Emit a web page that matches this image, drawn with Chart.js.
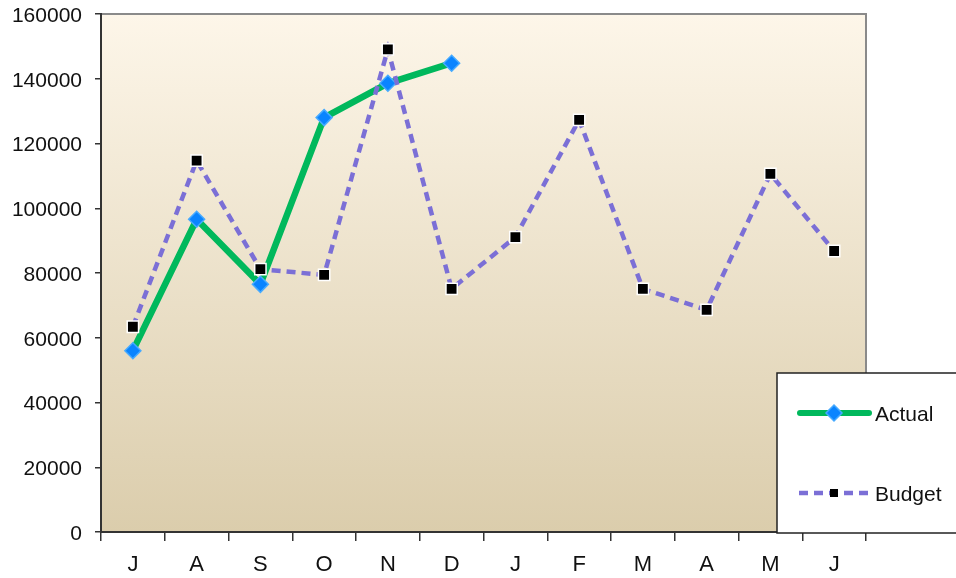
<!DOCTYPE html>
<html>
<head>
<meta charset="utf-8">
<script src="https://cdn.jsdelivr.net/npm/chart.js@4"></script>
<style>
  html, body { margin: 0; padding: 0; background: #fff; }
  #grafico { display: block; }
</style>
</head>
<body>
<canvas id="grafico" width="956" height="578"></canvas>
<script>
// meses (jul a jun)
const meses = ['J', 'A', 'S', 'O', 'N', 'D', 'J', 'F', 'M', 'A', 'M', 'J'];
const actual = [56000, 96600, 76500, 128000, 138600, 144800, null, null, null, null, null, null];
const budget = [63400, 114700, 81200, 79400, 149100, 75100, 91100, 127300, 75100, 68600, 110600, 86800];

const corActual = '#00b85c';
const corBudget = '#7b6fd6';
const fonte = '"Liberation Sans", Arial, sans-serif';

// fundo em degradê da área do gráfico + bordas cinzas em cima e à direita
const fundo = {
  id: 'fundo',
  beforeDraw(chart) {
    const { ctx, chartArea: a } = chart;
    const g = ctx.createLinearGradient(0, a.top, 0, a.bottom);
    g.addColorStop(0, '#fdf6e9');
    g.addColorStop(1, '#dbcdac');
    ctx.save();
    ctx.fillStyle = g;
    ctx.fillRect(a.left, a.top, a.right - a.left, a.bottom - a.top);
    ctx.strokeStyle = '#8a8a8a';
    ctx.lineWidth = 2;
    ctx.beginPath();
    ctx.moveTo(a.left, a.top);
    ctx.lineTo(a.right, a.top);
    ctx.lineTo(a.right, a.bottom);
    ctx.stroke();
    ctx.restore();
  }
};

// legenda desenhada à mão, no canto inferior direito
const legenda = {
  id: 'legenda',
  afterDraw(chart) {
    const { ctx } = chart;
    const x0 = 777, y0 = 373, y1 = 533;
    ctx.save();
    ctx.fillStyle = '#ffffff';
    ctx.fillRect(x0, y0, 200, y1 - y0);
    ctx.strokeStyle = '#222';
    ctx.lineWidth = 1.5;
    ctx.strokeRect(x0, y0, 200, y1 - y0);

    // Actual
    ctx.strokeStyle = corActual;
    ctx.lineWidth = 6;
    ctx.lineCap = 'round';
    ctx.beginPath();
    ctx.moveTo(800, 413);
    ctx.lineTo(869, 413);
    ctx.stroke();
    ctx.fillStyle = '#0a84ff';
    ctx.strokeStyle = '#46aaff';
    ctx.lineWidth = 1.5;
    ctx.beginPath();
    ctx.moveTo(834, 405); ctx.lineTo(842, 413); ctx.lineTo(834, 421); ctx.lineTo(826, 413);
    ctx.closePath();
    ctx.fill();
    ctx.stroke();

    // Budget
    ctx.strokeStyle = corBudget;
    ctx.lineWidth = 4.5;
    ctx.lineCap = 'butt';
    ctx.setLineDash([9, 6]);
    ctx.beginPath();
    ctx.moveTo(799, 493);
    ctx.lineTo(869, 493);
    ctx.stroke();
    ctx.setLineDash([]);
    ctx.fillStyle = '#000';
    ctx.fillRect(830, 489, 8, 8);

    ctx.fillStyle = '#111';
    ctx.font = '21px ' + fonte;
    ctx.textBaseline = 'middle';
    ctx.textAlign = 'left';
    ctx.fillText('Actual', 875, 415);
    ctx.fillText('Budget', 875, 495);
    ctx.restore();
  }
};

const ctx = document.getElementById('grafico').getContext('2d');

const grafico = new Chart(ctx, {
  type: 'line',
  data: {
    labels: meses,
    datasets: [
      {
        label: 'Actual',
        data: actual,
        borderColor: corActual,
        borderWidth: 6.5,
        pointStyle: 'rectRot',
        pointRadius: 8,
        pointBackgroundColor: '#0a84ff',
        pointBorderColor: '#46aaff',
        pointBorderWidth: 1.5,
        tension: 0,
        spanGaps: false,
        order: 1
      },
      {
        label: 'Budget',
        data: budget,
        borderColor: corBudget,
        borderWidth: 4.5,
        borderDash: [9, 6],
        pointStyle: 'rect',
        pointRadius: 8,
        pointBackgroundColor: '#000',
        pointBorderColor: '#fff',
        pointBorderWidth: 1.5,
        tension: 0,
        order: 0
      }
    ]
  },
  options: {
    responsive: false,
    animation: false,
    maintainAspectRatio: false,
    layout: { padding: { left: 0, top: 14, right: 90, bottom: 0 } },
    plugins: {
      legend: { display: false },
      tooltip: { enabled: false }
    },
    scales: {
      x: {
        offset: true,
        grid: {
          offset: true,
          drawOnChartArea: false,
          drawTicks: true,
          tickLength: 9,
          color: '#333',
          lineWidth: 1.5
        },
        border: { color: '#333', width: 2 },
        ticks: {
          color: '#111',
          padding: 11,
          font: { family: fonte, size: 22 },
          maxRotation: 0,
          autoSkip: false
        },
        afterFit(scale) {
          scale.height = 46;
          scale.paddingLeft = 0;
          scale.paddingRight = 0;
        }
      },
      y: {
        min: 0,
        max: 160000,
        grid: {
          drawOnChartArea: false,
          tickLength: 6,
          color: '#333',
          lineWidth: 1.5
        },
        border: { color: '#333', width: 2 },
        ticks: {
          stepSize: 20000,
          color: '#111',
          padding: 13,
          labelOffset: 2,
          font: { family: fonte, size: 21 },
          callback: v => String(v)
        },
        afterFit(scale) {
          scale.width = 101;
          scale.paddingTop = 0;
          scale.paddingBottom = 0;
        }
      }
    }
  },
  plugins: [fundo, legenda]
});
</script>
</body>
</html>
